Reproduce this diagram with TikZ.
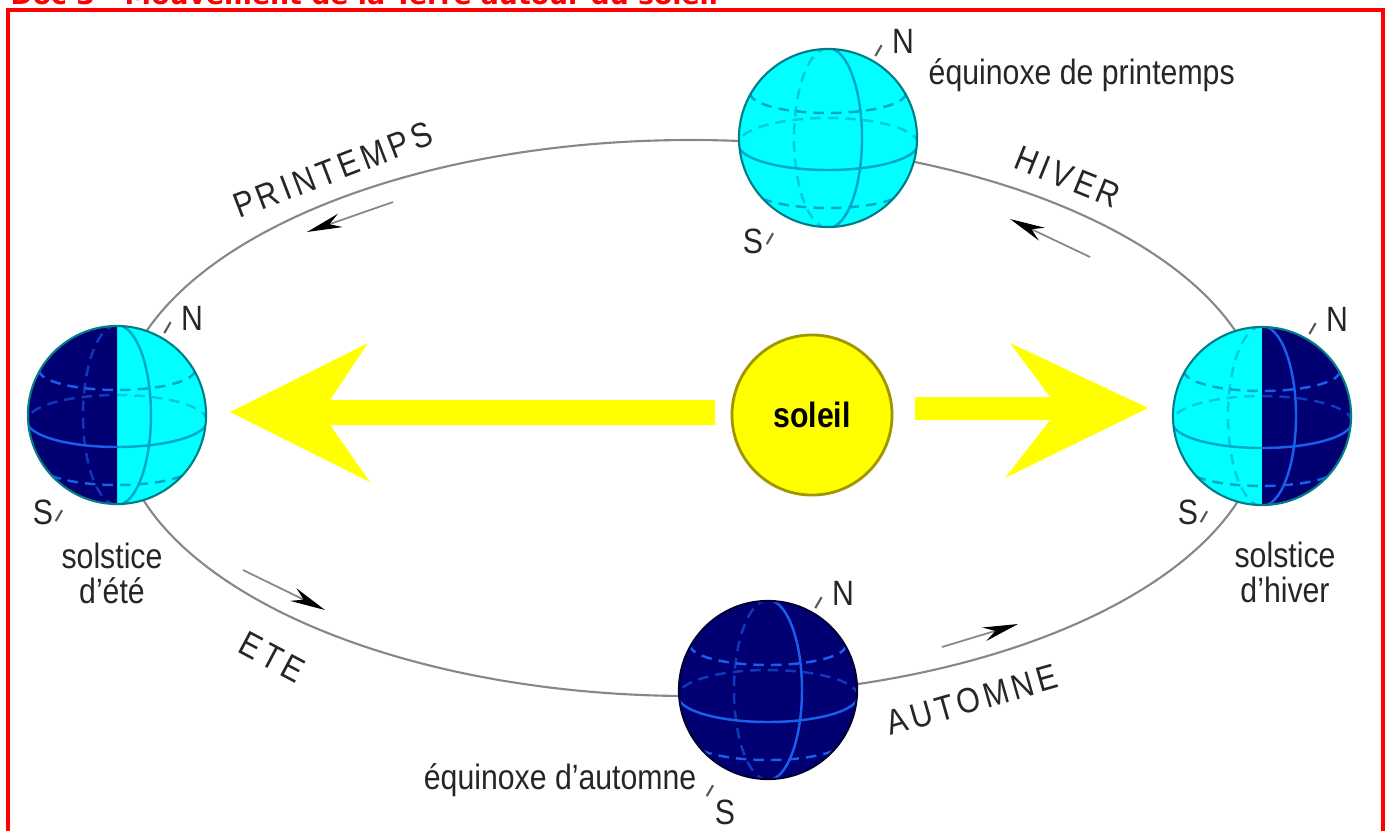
\documentclass[tikz,border=0pt]{standalone}
\usepackage{fontspec}
\setmainfont{Liberation Sans}[FakeStretch=0.86]
\newfontfamily\titlefont{DejaVu Sans}
\usetikzlibrary{arrows.meta,calc,positioning}

\definecolor{skycyan}{RGB}{0,255,255}
\definecolor{nightblue}{RGB}{0,0,115}
\definecolor{tealline}{RGB}{0,125,135}
\definecolor{gridcyan}{RGB}{0,165,205}
\definecolor{gridblue}{RGB}{25,95,235}
\definecolor{sunyellow}{RGB}{255,255,0}
\definecolor{sunrim}{RGB}{160,150,0}
\definecolor{orbitgray}{RGB}{135,135,135}
\definecolor{framered}{RGB}{255,0,0}

\newcommand{\globegrid}[1]{%
  \begin{scope}[shift={(path picture bounding box.center)},rotate=-30,color=#1,line width=0.7pt]
    \draw (90,6) arc[start angle=0,end angle=180,x radius=90,y radius=26];
    \draw[densely dashed,opacity=0.6] (90,6) arc[start angle=0,end angle=-180,x radius=90,y radius=26];
    \draw (0,-90) arc[start angle=-90,end angle=90,x radius=34,y radius=90];
    \draw[densely dashed,opacity=0.6] (0,-90) arc[start angle=270,end angle=90,x radius=34,y radius=90];
    \draw[densely dashed] (78,-45) arc[start angle=0,end angle=180,x radius=78,y radius=20];
    \draw[densely dashed] (78,50) arc[start angle=0,end angle=180,x radius=78,y radius=20];
  \end{scope}}

\tikzset{
  globe/.style={circle,minimum size=1.78cm,inner sep=0pt,line width=0.6pt},
  dayside/.style={globe,fill=skycyan,draw=tealline,path picture={\globegrid{gridcyan}}},
  nightside/.style={globe,fill=nightblue,draw=black!80!blue,path picture={\globegrid{gridblue}}},
  halfside/.style={globe,fill=skycyan,draw=tealline,path picture={%
      \globegrid{gridcyan}
      \clip (path picture bounding box.north) rectangle ([xshift=#1]path picture bounding box.south);
      \fill[nightblue] (path picture bounding box.south west) rectangle (path picture bounding box.north east);
      \globegrid{gridblue}}},
  sun/.style={circle,minimum size=1.6cm,fill=sunyellow,draw=sunrim,line width=0.8pt,font=\fontsize{10}{10}\selectfont\bfseries},
  ray/.style={fill=sunyellow},
  orbit/.style={draw=orbitgray,line width=0.6pt},
  flow/.style={draw=orbitgray,line width=0.5pt,-{Stealth[length=10pt,width=4pt,color=black]}},
  tag/.style={font=\fontsize{10}{10}\selectfont,text=black!85,inner sep=0pt,align=center},
  season/.style={font=\fontsize{10}{10}\selectfont\addfontfeature{LetterSpace=12},text=black!85,inner sep=0pt},
  pole/.style={font=\fontsize{10}{10}\selectfont,text=black!85,inner sep=0pt},
  stub/.style={draw=black!65,line width=0.6pt}
}

\begin{document}
\begin{tikzpicture}[x=0.01cm,y=-0.01cm]
	\useasboundingbox (0,0) rectangle (1386,830);
	\draw [framered,line width=0.9pt] (8,10) rectangle (1383,860);
	\node [anchor=base west,inner sep=0pt,text=framered,font=\titlefont\bfseries\fontsize{7.6}{7.6}\selectfont] (title) at (10,4.5) {Doc 3 - Mouvement de la Terre autour du soleil};

	\draw [orbit] (691,418) ellipse [x radius=573,y radius=278];
	\draw [flow] (393,202) -- (307,232);
	\draw [flow] (243,570) -- (325,610);
	\draw [flow] (942,647) -- (1018,624);
	\draw [flow] (1090,257) -- (1010,219);

	\node [season,rotate=21] (printemps) at (333,170) {PRINTEMPS};
	\node [season,rotate=-22] (hiver) at (1068,177) {HIVER};
	\node [season,rotate=-28] (ete) at (272,657) {ETE};
	\node [season,rotate=16] (automne) at (972,700) {AUTOMNE};

	\fill [ray] (715,400) -- (330,400) -- (368,343) -- (230,412) -- (370,482) -- (330,425) -- (715,425) -- cycle;
	\fill [ray] (915,397) -- (1050,397) -- (1010,343) -- (1148,408) -- (1005,478) -- (1050,420) -- (915,420) -- cycle;
	\node [sun] (sun) at (812,415) {soleil};

	\node [dayside] (spring) at (828,138) {};
	\node [halfside=-1cm] (summer) at (117,415) {};
	\node [nightside] (autumn) at (768,690) {};
	\node [halfside=1cm] (winter) at (1262,416) {};

	\foreach \g/\sx/\sy in {spring/-75/103,summer/-74/97,autumn/-43/122,winter/-74/96} {
		\draw [stub] ($(\g.center)!1.05!(\g.60)$) -- ($(\g.center)!1.19!(\g.60)$);
		\node [pole] (\g N) at ([shift={(75,-97)}]\g.center) {N};
		\draw [stub] ($(\g.center)!1.22!(\g.240)$) -- ($(\g.center)!1.36!(\g.240)$);
		\node [pole] (\g S) at ([shift={(\sx,\sy)}]\g.center) {S};
	}

	\node [tag,anchor=west] (springtag) at (928,75) {équinoxe de printemps};
	\node [tag] (summertag) at (112,573) {solstice\\d'été};
	\node [tag] (wintertag) at (1285,572) {solstice\\d'hiver};
	\node [tag,anchor=east] (autumntag) at (697,780) {équinoxe d'automne};
\end{tikzpicture}
\end{document}
